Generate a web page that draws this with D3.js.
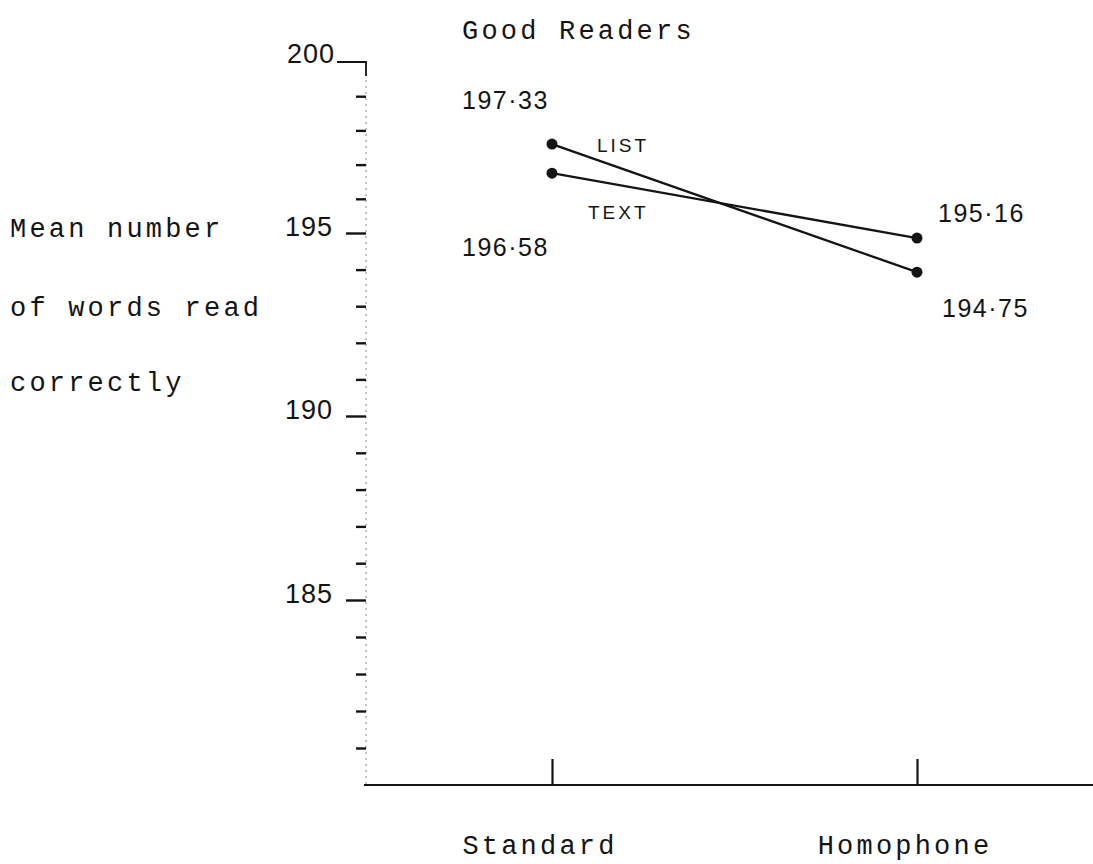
<!DOCTYPE html>
<html>
<head>
<meta charset="utf-8">
<script src="https://cdn.jsdelivr.net/npm/d3@7"></script>
<style>
  html, body { margin: 0; padding: 0; background: #fff; }
  svg { display: block; }
  .type { font-family: "Liberation Mono", "DejaVu Sans Mono", monospace; font-size: 27px; letter-spacing: 3.2px; fill: #141414; }
  .hand { font-family: "Liberation Sans", "DejaVu Sans", sans-serif; fill: #141414; }
</style>
</head>
<body>
<svg id="chart" width="1093" height="864"></svg>
<script>
// ---------- data ----------
const title = "Good Readers";
const categories = ["Standard", "Homophone"];
const seriesNames = ["LIST", "TEXT"];
// plotted positions
const listValues = [197.60, 193.93];
const textValues = [196.75, 194.86];
// handwritten value labels as written on the chart
const listLabels = ["197·33", "194·75"];
const textLabels = ["196·58", "195·16"];
const yAxisLabelLines = ["Mean number", "of words read", "correctly"];
const majorTicks = [185, 190, 195, 200];
const minorTicks = [181, 182, 183, 184, 186, 187, 188, 189, 191, 192, 193, 194, 196, 197, 198, 199];

// ---------- layout ----------
const svg = d3.select("#chart");
const ink = "#141414";
const axisX = 366, baseY = 785;

// hand-drawn axis: piecewise linear to follow the drawn tick marks
const y = d3.scaleLinear()
  .domain([180, 185, 190, 195, 200])
  .range([785, 600, 416, 233, 62]);
const x = d3.scalePoint().domain(categories).range([552, 917]);

// title
svg.append("text").attr("class", "type")
  .attr("x", 462).attr("y", 30).attr("dy", "0.35em")
  .text(title);

// y-axis label
svg.append("g").selectAll("text").data(yAxisLabelLines).join("text")
  .attr("class", "type")
  .attr("x", 10)
  .attr("y", (d, i) => [228, 307, 382][i])
  .attr("dy", "0.35em")
  .text(d => d);

// faint vertical axis line
svg.append("line")
  .attr("x1", axisX).attr("x2", axisX)
  .attr("y1", y(200)).attr("y2", baseY)
  .attr("stroke", "#9a9a9a").attr("stroke-width", 1.2)
  .attr("stroke-dasharray", "2,4");
svg.append("path")
  .attr("d", `M${axisX - 29},${y(200)}H${axisX}V${y(200) + 14}`)
  .attr("fill", "none").attr("stroke", ink).attr("stroke-width", 1.8);

// minor ticks
const minorAxis = svg.append("g").attr("transform", `translate(${axisX},0)`)
  .call(d3.axisLeft(y).tickValues(minorTicks).tickSize(10).tickFormat(""));
minorAxis.select(".domain").remove();
minorAxis.selectAll(".tick line").attr("stroke", ink).attr("stroke-width", 2.4);

// major ticks + labels
const majorAxis = svg.append("g").attr("transform", `translate(${axisX},0)`)
  .call(d3.axisLeft(y).tickValues(majorTicks.filter(v => v !== 200)).tickSize(20).tickPadding(13).tickFormat(d3.format("d")));
majorAxis.select(".domain").remove();
majorAxis.selectAll(".tick line").attr("stroke", ink).attr("stroke-width", 2.4);
majorAxis.selectAll(".tick text")
  .attr("class", "hand")
  .attr("font-size", 27).attr("letter-spacing", 1)
  .attr("font-family", null)
  .attr("dy", "0.1em")
  .style("fill", ink);
// 200 label (the top stub carries the tick)
svg.append("text").attr("class", "hand")
  .attr("x", axisX - 31).attr("y", y(200)).attr("dy", "0.05em")
  .attr("text-anchor", "end").attr("font-size", 27).attr("letter-spacing", 1)
  .text(d3.format("d")(200));

// x axis baseline and ticks
svg.append("line")
  .attr("x1", axisX - 2).attr("x2", 1093)
  .attr("y1", baseY).attr("y2", baseY)
  .attr("stroke", ink).attr("stroke-width", 2);
const xAxis = svg.append("g").attr("transform", `translate(0,${baseY})`)
  .call(d3.axisBottom(x).tickSize(-26).tickFormat(""));
xAxis.select(".domain").remove();
xAxis.selectAll(".tick line").attr("stroke", ink).attr("stroke-width", 2.2);

// category labels
svg.append("g").selectAll("text").data(categories).join("text")
  .attr("class", "type")
  .attr("x", d => x(d) - 12)
  .attr("y", 845).attr("dy", "0.35em")
  .attr("text-anchor", "middle")
  .text(d => d);

// series lines and points
const series = [
  { name: seriesNames[0], values: listValues, labels: listLabels },
  { name: seriesNames[1], values: textValues, labels: textLabels }
];
const line = d3.line().x((d, i) => x(categories[i])).y(d => y(d));
svg.append("g").selectAll("path").data(series).join("path")
  .attr("d", d => line(d.values))
  .attr("fill", "none").attr("stroke", ink).attr("stroke-width", 2.3);
svg.append("g").selectAll("g").data(series).join("g")
  .selectAll("circle").data(d => d.values).join("circle")
  .attr("cx", (d, i) => x(categories[i]))
  .attr("cy", d => y(d))
  .attr("r", 5.5).attr("fill", ink);

// value labels: list above at Standard / below at Homophone; text the opposite
const labelSpec = [
  { text: listLabels[0], x: 462, y: 100 },
  { text: textLabels[0], x: 462, y: 247 },
  { text: textLabels[1], x: 938, y: 213 },
  { text: listLabels[1], x: 942, y: 308 }
];
svg.append("g").selectAll("text").data(labelSpec).join("text")
  .attr("class", "hand")
  .attr("x", d => d.x).attr("y", d => d.y).attr("dy", "0.35em")
  .attr("font-size", 25).attr("letter-spacing", 1.5)
  .text(d => d.text);

// series name labels
svg.append("g").selectAll("text").data([
  { text: seriesNames[0], x: 597, y: 145 },
  { text: seriesNames[1], x: 588, y: 212 }
]).join("text")
  .attr("class", "hand")
  .attr("x", d => d.x).attr("y", d => d.y).attr("dy", "0.35em")
  .attr("font-size", 19).attr("letter-spacing", 3)
  .text(d => d.text);
</script>
</body>
</html>
